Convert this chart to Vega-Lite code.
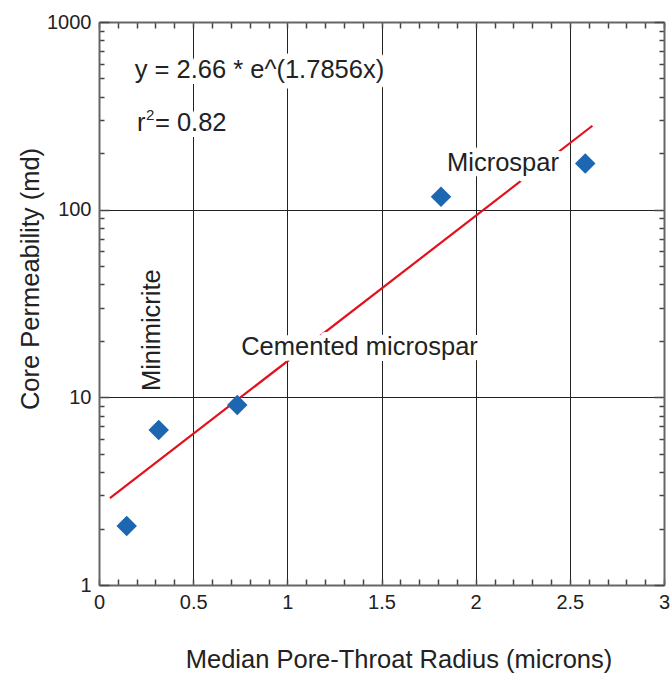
{
  "$schema": "https://vega.github.io/schema/vega-lite/v6.json",
  "width": 565,
  "height": 563,
  "autosize": "none",
  "padding": {"left": 99, "top": 22, "right": 6, "bottom": 88},
  "config": {"view": {"stroke": null}, "font": "Liberation Sans", "text": {"font": "Liberation Sans"}},
  "resolve": {"axis": {"x": "independent", "y": "independent"}},
  "layer": [
    {
      "data": {"values": [{"x": 0.058, "y": 2.9}, {"x": 2.62, "y": 280}]},
      "mark": {"type": "line", "color": "#e3101e", "strokeWidth": 2.2},
      "encoding": {
        "x": {"field": "x", "type": "quantitative", "scale": {"domain": [0, 3], "nice": false, "zero": false},
          "axis": {"orient": "top", "values": [0,0.1,0.2,0.3,0.4,0.5,0.6,0.7,0.8,0.9,1,1.1,1.2,1.3,1.4,1.5,1.6,1.7,1.8,1.9,2,2.1,2.2,2.3,2.4,2.5,2.6,2.7,2.8,2.9,3],
            "labels": false, "grid": false, "title": null, "tickSize": -6, "tickColor": "#444", "tickWidth": 1.5, "domainColor": "#666", "domainWidth": 2}},
        "y": {"field": "y", "type": "quantitative", "scale": {"type": "log", "domain": [1, 1000], "nice": false},
          "axis": {"orient": "right", "values": [1,2,3,4,5,6,7,8,9,10,20,30,40,50,60,70,80,90,100,200,300,400,500,600,700,800,900,1000],
            "labels": false, "grid": false, "title": null,
            "tickSize": {"condition": {"test": "abs(log(datum.value)/LN10 - round(log(datum.value)/LN10)) < 0.001", "value": -10}, "value": -5},
            "tickColor": "#444", "tickWidth": 1.5, "domainColor": "#666", "domainWidth": 2}}
      }
    },
    {
      "data": {"values": [
        {"x": 0.147, "y": 2.06},
        {"x": 0.317, "y": 6.7},
        {"x": 0.734, "y": 9.1},
        {"x": 1.816, "y": 117},
        {"x": 2.582, "y": 176}
      ]},
      "mark": {"type": "point", "shape": "diamond", "filled": true, "color": "#1c66b2", "opacity": 1, "size": 420},
      "encoding": {
        "x": {"field": "x", "type": "quantitative", "scale": {"domain": [0, 3], "nice": false, "zero": false},
          "axis": {"orient": "bottom", "values": [0,0.1,0.2,0.3,0.4,0.5,0.6,0.7,0.8,0.9,1,1.1,1.2,1.3,1.4,1.5,1.6,1.7,1.8,1.9,2,2.1,2.2,2.3,2.4,2.5,2.6,2.7,2.8,2.9,3],
            "format": "~g",
            "labelExpr": "abs(datum.value*2-round(datum.value*2)) < 0.01 ? datum.label : ''",
            "grid": true, "gridColor": "#222", "gridWidth": 1,
            "gridOpacity": {"condition": {"test": "abs(datum.value*2-round(datum.value*2)) < 0.01", "value": 1}, "value": 0},
            "tickSize": -6, "tickColor": "#444", "tickWidth": 1.5, "domainColor": "#666", "domainWidth": 2,
            "labelFontSize": 20, "labelColor": "#222", "labelPadding": 13, "labelFlush": false, "labelOverlap": false,
            "title": "Median Pore-Throat Radius (microns)", "titleFontSize": 25.5, "titleFontWeight": "normal", "titleColor": "#222", "titlePadding": 35, "titleX": 299.5}},
        "y": {"field": "y", "type": "quantitative", "scale": {"type": "log", "domain": [1, 1000], "nice": false},
          "axis": {"orient": "left", "values": [1,2,3,4,5,6,7,8,9,10,20,30,40,50,60,70,80,90,100,200,300,400,500,600,700,800,900,1000],
            "format": "d",
            "labelExpr": "abs(log(datum.value)/LN10 - round(log(datum.value)/LN10)) < 0.001 ? datum.label : ''",
            "grid": true, "gridColor": "#222", "gridWidth": 1,
            "gridOpacity": {"condition": {"test": "abs(log(datum.value)/LN10 - round(log(datum.value)/LN10)) < 0.001", "value": 1}, "value": 0},
            "tickSize": {"condition": {"test": "abs(log(datum.value)/LN10 - round(log(datum.value)/LN10)) < 0.001", "value": -10}, "value": -5},
            "tickColor": "#444", "tickWidth": 1.5, "domainColor": "#666", "domainWidth": 2,
            "labelFontSize": 20, "labelColor": "#222", "labelPadding": 18, "labelOverlap": false, "labelFlush": false,
            "title": "Core Permeability (md)", "titleFontSize": 25.5, "titleFontWeight": "normal", "titleColor": "#222", "titlePadding": 3, "titleY": 256.5}}
      }
    },
    {
      "data": {"values": [
        {"x": 0.852, "y": 555, "label": "y = 2.66 * e^(1.7856x)"},
        {"x": 2.145, "y": 177, "label": "Microspar"},
        {"x": 1.383, "y": 18.5, "label": "Cemented microspar"}
      ]},
      "layer": [
        {"mark": {"type": "text", "fontSize": 25.5, "align": "center", "baseline": "middle", "fill": "white", "stroke": "white", "strokeWidth": 12, "strokeJoin": "round"}},
        {"mark": {"type": "text", "fontSize": 25.5, "align": "center", "baseline": "middle", "color": "#222"}}
      ],
      "encoding": {
        "x": {"field": "x", "type": "quantitative", "scale": {"domain": [0, 3], "nice": false, "zero": false}, "axis": null},
        "y": {"field": "y", "type": "quantitative", "scale": {"type": "log", "domain": [1, 1000], "nice": false}, "axis": null},
        "text": {"field": "label"}
      }
    },
    {
      "data": {"values": [
        {"x": 0.202, "y": 290, "label": "r"},
        {"x": 0.297, "y": 290, "label": "= 0.82"}
      ]},
      "layer": [
        {"mark": {"type": "text", "fontSize": 25.5, "align": "left", "baseline": "middle", "fill": "white", "stroke": "white", "strokeWidth": 12, "strokeJoin": "round"}},
        {"mark": {"type": "text", "fontSize": 25.5, "align": "left", "baseline": "middle", "color": "#222"}}
      ],
      "encoding": {
        "x": {"field": "x", "type": "quantitative", "scale": {"domain": [0, 3], "nice": false, "zero": false}, "axis": null},
        "y": {"field": "y", "type": "quantitative", "scale": {"type": "log", "domain": [1, 1000], "nice": false}, "axis": null},
        "text": {"field": "label"}
      }
    },
    {
      "data": {"values": [{"x": 0.25, "y": 318, "label": "2"}]},
      "mark": {"type": "text", "fontSize": 15, "align": "left", "baseline": "middle", "color": "#222"},
      "encoding": {
        "x": {"field": "x", "type": "quantitative", "scale": {"domain": [0, 3], "nice": false, "zero": false}, "axis": null},
        "y": {"field": "y", "type": "quantitative", "scale": {"type": "log", "domain": [1, 1000], "nice": false}, "axis": null},
        "text": {"field": "label"}
      }
    },
    {
      "data": {"values": [{"x": 0.281, "y": 22.8, "label": "Minimicrite"}]},
      "mark": {"type": "text", "fontSize": 25.5, "align": "center", "baseline": "middle", "angle": 270, "color": "#222"},
      "encoding": {
        "x": {"field": "x", "type": "quantitative", "scale": {"domain": [0, 3], "nice": false, "zero": false}, "axis": null},
        "y": {"field": "y", "type": "quantitative", "scale": {"type": "log", "domain": [1, 1000], "nice": false}, "axis": null},
        "text": {"field": "label"}
      }
    }
  ]
}
